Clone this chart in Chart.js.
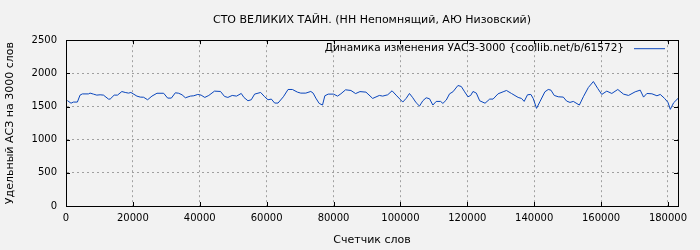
<!DOCTYPE html>
<html>
<head>
<meta charset="utf-8">
<script src="https://cdn.jsdelivr.net/npm/chart.js@4/dist/chart.umd.min.js"></script>
<style>
  html, body { margin: 0; padding: 0; background: #f2f2f2; }
  #wrap { width: 700px; height: 250px; }
</style>
</head>
<body>
<div id="wrap"><canvas id="myChart"></canvas></div>
<script>
// Данные графика
const chartTitle = "СТО ВЕЛИКИХ ТАЙН. (НН Непомнящий, АЮ Низовский)";
const seriesLabel = "Динамика изменения УАСЗ-3000 {coollib.net/b/61572}";
const xTitle = "Счетчик слов";
const yTitle = "Удельный АСЗ на 3000 слов";

const words = [
  400, 1500, 2200, 3400, 4200, 4900, 6700, 7200, 8200, 9200, 10200, 11200, 12700, 13200,
  14400, 15400, 16700, 17700, 18700, 19400, 21200, 22200, 23200, 24400, 25700, 27200,
  29200, 30400, 31500, 32700, 33700, 34700, 35700, 37200, 38200, 39400, 40400, 41500,
  42700, 44400, 46200, 47400, 48400, 49700, 51000, 52400, 53200, 54400, 55400, 56400,
  58200, 59400, 60400, 61400, 62400, 63400, 65000, 66400, 67700, 69200, 70200, 71700,
  73200, 73900, 74700, 75700, 76700, 77400, 78400, 80000, 81200, 82200, 83600, 85200,
  86600, 87900, 89700, 91700, 93700, 94700, 96200, 97500, 98700, 100700, 101700, 102700,
  103700, 104700, 105700, 106700, 107700, 108700, 109700, 110700, 112000, 112700, 113700,
  114700, 115700, 117200, 118200, 119200, 120200, 121000, 121700, 122700, 123700, 125300,
  126700, 127700, 129200, 130700, 131700, 133200, 135200, 136200, 137000, 138000, 139000,
  139700, 140700, 141700, 143200, 144200, 145000, 146000, 147200, 148700, 149700, 150700,
  151700, 153500, 154700, 156200, 157700, 159000, 160200, 161700, 163200, 165000, 166700,
  168200, 170200, 171700, 172700, 173700, 175200, 176700, 177700, 179000, 180000, 180700,
  181700, 183000
];
const uasz = [
  1590, 1550, 1567, 1567, 1672, 1690, 1690, 1702, 1687, 1672, 1677, 1672, 1612, 1612,
  1672, 1672, 1726, 1712, 1702, 1712, 1657, 1642, 1640, 1602, 1657, 1700,
  1700, 1627, 1627, 1707, 1700, 1677, 1632, 1657, 1662, 1682, 1672, 1637,
  1667, 1732, 1727, 1652, 1637, 1667, 1657, 1697, 1637, 1587, 1602, 1687,
  1712, 1647, 1602, 1612, 1552, 1552, 1647, 1757, 1757, 1717, 1702, 1702,
  1727, 1702, 1627, 1547, 1522, 1662, 1687, 1687, 1657, 1692, 1752, 1742,
  1695, 1725, 1717, 1622, 1667, 1657, 1677, 1737, 1672, 1567, 1622, 1697,
  1632, 1557, 1507, 1587, 1632, 1617, 1522, 1577, 1577, 1547, 1597,
  1692, 1722, 1817, 1802, 1722, 1647, 1667, 1727, 1702, 1587, 1550,
  1612, 1612, 1692, 1722, 1742, 1697, 1637, 1622, 1577, 1677, 1682,
  1622, 1472, 1572, 1722, 1757, 1747, 1667, 1647, 1642, 1582, 1562,
  1577, 1522, 1647, 1787, 1877, 1772, 1682, 1732, 1697, 1757, 1687,
  1667, 1722, 1747, 1642, 1697, 1692, 1662, 1682, 1622, 1562, 1457,
  1557, 1622
];
const xTicks = [0, 20000, 40000, 60000, 80000, 100000, 120000, 140000, 160000, 180000];
const yTicks = [0, 500, 1000, 1500, 2000, 2500];

const points = words.map((w, i) => ({ x: w, y: uasz[i] }));
const FONT = "'DejaVu Sans', sans-serif";

// рамка, внутренние засечки и легенда внутри области графика
const framePlugin = {
  id: "frame",
  afterDraw(chart) {
    const ctx = chart.ctx;
    const a = chart.chartArea;
    const sx = chart.scales.x, sy = chart.scales.y;
    ctx.save();
    ctx.strokeStyle = "#000";
    ctx.lineWidth = 1;
    ctx.strokeRect(Math.round(a.left) + 0.5, Math.round(a.top) + 0.5,
      Math.round(a.right - a.left), Math.round(a.bottom - a.top));
    ctx.beginPath();
    xTicks.forEach(v => {
      const px = Math.round(sx.getPixelForValue(v)) + 0.5;
      ctx.moveTo(px, a.bottom); ctx.lineTo(px, a.bottom - 4);
      ctx.moveTo(px, a.top); ctx.lineTo(px, a.top + 4);
    });
    yTicks.forEach(v => {
      const py = Math.round(sy.getPixelForValue(v)) + 0.5;
      ctx.moveTo(a.left, py); ctx.lineTo(a.left + 4, py);
      ctx.moveTo(a.right, py); ctx.lineTo(a.right - 4, py);
    });
    ctx.stroke();

    const ds = chart.data.datasets[0];
    const ly = a.top + 8.5;
    ctx.font = "10.5px " + FONT;
    ctx.fillStyle = "#000";
    ctx.textAlign = "right";
    ctx.textBaseline = "middle";
    ctx.fillText(ds.label, a.right - 54, ly);
    ctx.strokeStyle = ds.borderColor;
    ctx.beginPath();
    ctx.moveTo(a.right - 44, ly); ctx.lineTo(a.right - 13, ly);
    ctx.stroke();
    ctx.restore();
  }
};

const ctx = document.getElementById("myChart").getContext("2d");
const myChart = new Chart(ctx, {
  type: "line",
  data: {
    datasets: [{
      label: seriesLabel,
      data: points,
      borderColor: "#0a46bc",
      borderWidth: 1,
      pointRadius: 0,
      tension: 0,
      fill: false
    }]
  },
  options: {
    responsive: true,
    maintainAspectRatio: false,
    animation: false,
    layout: { padding: { left: 0, right: 22, top: 0, bottom: 0 } },
    plugins: {
      legend: { display: false },
      tooltip: { enabled: false },
      title: {
        display: true,
        text: chartTitle,
        fullSize: false,
        color: "#000",
        font: { family: FONT, size: 11, weight: "normal" },
        padding: { top: 14, bottom: 13 }
      }
    },
    scales: {
      x: {
        type: "linear",
        min: 0,
        max: 183000,
        afterBuildTicks(scale) { scale.ticks = xTicks.map(v => ({ value: v })); },
        afterFit(scale) { scale.height = 44; },
        ticks: {
          color: "#000",
          font: { family: FONT, size: 10 },
          maxRotation: 0,
          padding: 6,
          callback: v => String(v)
        },
        grid: { color: "#a0a0a0", drawTicks: false, lineWidth: 1 },
        border: { display: true, color: "#000", dash: [2, 3] },
        title: {
          display: true,
          text: xTitle,
          color: "#000",
          font: { family: FONT, size: 11 },
          padding: { top: 4, bottom: 3 }
        }
      },
      y: {
        min: 0,
        max: 2500,
        afterBuildTicks(scale) { scale.ticks = yTicks.map(v => ({ value: v })); },
        afterFit(scale) { scale.width = 66; },
        ticks: {
          color: "#000",
          font: { family: FONT, size: 10 },
          padding: 9,
          callback: v => String(v)
        },
        grid: { color: "#a0a0a0", drawTicks: false, lineWidth: 1 },
        border: { display: true, color: "#000", dash: [2, 3] },
        title: {
          display: true,
          text: yTitle,
          color: "#000",
          font: { family: FONT, size: 11 },
          padding: { top: 4, bottom: 0 }
        }
      }
    }
  },
  plugins: [framePlugin]
});
</script>
</body>
</html>
